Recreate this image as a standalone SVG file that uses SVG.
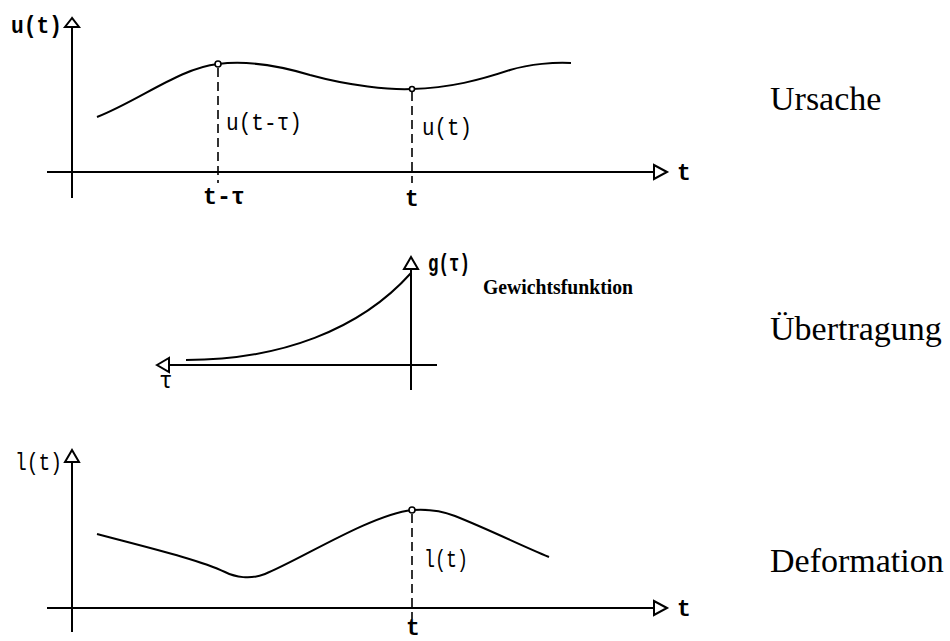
<svg xmlns="http://www.w3.org/2000/svg" width="950" height="641" viewBox="0 0 950 641">
<style>
.ax{stroke:#000;stroke-width:2;fill:none}
.cv{stroke:#000;stroke-width:2;fill:none}
.dash{stroke:#000;stroke-width:1.6;stroke-dasharray:9,5;fill:none}
.ah{fill:#fff;stroke:#000;stroke-width:2;stroke-linejoin:miter}
.pt{fill:#fff;stroke:#000;stroke-width:1.6}
.lb{font-family:"Liberation Mono","DejaVu Sans Mono",monospace;font-size:23px;fill:#000}
.lbb{font-family:"Liberation Mono","DejaVu Sans Mono",monospace;font-size:23px;font-weight:bold;fill:#000}
.gw{font-family:"Liberation Serif",serif;font-size:22px;font-weight:bold;fill:#000}
.rt{font-family:"Liberation Serif","DejaVu Serif",serif;font-size:34px;fill:#000}
</style>
<rect width="950" height="641" fill="#fff"/>
<g id="plot-ursache">
<line class="ax" x1="72" y1="198" x2="72" y2="26"/>
<polygon class="ah" points="72,18 65,27 79,27"/>
<line class="ax" x1="47" y1="172" x2="654" y2="172"/>
<polygon class="ah" points="667,172 654,165 654,179"/>
<text class="lbb" x="11" y="33" textLength="51" lengthAdjust="spacingAndGlyphs">u(t)</text>
<text class="lbb" x="677" y="180">t</text>
<path class="cv" d="M97,117 C140,100 180,68 218,64 C250,60 280,66 310,75 C350,86 390,90 412,89 C450,88 480,80 510,70 C530,64 555,62 571,63"/>
<line class="dash" x1="218" y1="68" x2="218" y2="183"/>
<line class="dash" x1="412" y1="92" x2="412" y2="183"/>
<circle class="pt" cx="218" cy="64" r="3"/>
<circle class="pt" cx="412" cy="89" r="2.5"/>
<text class="lb" x="226" y="130" textLength="76" lengthAdjust="spacingAndGlyphs">u(t-τ)</text>
<text class="lb" x="422" y="135" textLength="50" lengthAdjust="spacingAndGlyphs">u(t)</text>
<text class="lbb" x="203" y="204" textLength="42" lengthAdjust="spacingAndGlyphs">t-τ</text>
<text class="lbb" x="405" y="206">t</text>
</g>
<g id="plot-gewicht">
<line class="ax" x1="411" y1="390" x2="411" y2="268"/>
<polygon class="ah" points="411,257 404,269 418,269"/>
<line class="ax" x1="437" y1="365" x2="169" y2="365"/>
<polygon class="ah" points="157,365 169,358 169,372"/>
<path class="cv" d="M186,360 C280,360 360,330 411,273"/>
<text class="lbb" x="428" y="271" textLength="42" lengthAdjust="spacingAndGlyphs">g(τ)</text>
<text class="gw" x="483" y="294" textLength="150" lengthAdjust="spacingAndGlyphs">Gewichtsfunktion</text>
<text class="lb" x="159" y="388">τ</text>
</g>
<g id="plot-deformation">
<line class="ax" x1="72" y1="632" x2="72" y2="462"/>
<polygon class="ah" points="72,450 65,462 79,462"/>
<line class="ax" x1="47" y1="608" x2="654" y2="608"/>
<polygon class="ah" points="667,608 654,601 654,615"/>
<text class="lb" x="15" y="470" textLength="47" lengthAdjust="spacingAndGlyphs">l(t)</text>
<text class="lbb" x="677" y="616">t</text>
<path class="cv" d="M97,534 C150,548 200,560 225,572 C235,577 250,580 265,574 C300,560 370,515 412,510 C425,509 440,510 455,516 C490,530 520,545 549,557"/>
<line class="dash" x1="412" y1="514" x2="412" y2="619"/>
<circle class="pt" cx="412" cy="510" r="3"/>
<text class="lb" x="424" y="567" textLength="44" lengthAdjust="spacingAndGlyphs">l(t)</text>
<text class="lbb" x="406" y="635" font-size="20">t</text>
</g>
<g id="labels">
<text class="rt" x="770" y="110">Ursache</text>
<text class="rt" x="770" y="340">Übertragung</text>
<text class="rt" x="770" y="572">Deformation</text>
</g>
</svg>
